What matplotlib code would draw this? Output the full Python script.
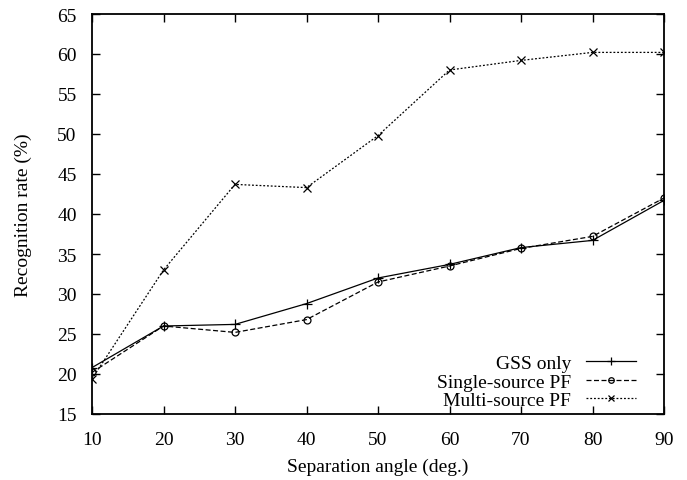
import matplotlib
matplotlib.use('Agg')
import matplotlib.pyplot as plt

plt.rcParams['font.family'] = ['Liberation Serif', 'DejaVu Serif']
plt.rcParams['font.size'] = 14

angles = [10, 20, 30, 40, 50, 60, 70, 80, 90]
gss_only = [20.8, 26.0, 26.2, 28.8, 32.0, 33.7, 35.8, 36.7, 41.7]
single_pf = [20.2, 26.0, 25.2, 26.8, 31.5, 33.5, 35.7, 37.2, 42.0]
multi_pf = [19.4, 33.0, 43.7, 43.3, 49.8, 58.0, 59.2, 60.2, 60.2]

fig = plt.figure(figsize=(6.87, 4.81), dpi=100)
ax = fig.add_axes([92/687, 66/481, (664-92)/687, (415-15)/481])

ax.plot(angles, gss_only, color='black', lw=0.9, marker='+', ms=7, mew=0.9, label='GSS only')
ax.plot(angles, single_pf, color='black', lw=0.9, ls=(0, (4, 2)), marker='o', ms=5,
        mfc='none', mew=0.9, label='Single-source PF')
ax.plot(angles, multi_pf, color='black', lw=0.9, ls=(0, (1.5, 1.5)), marker='x', ms=6,
        mew=0.9, label='Multi-source PF')

ax.set_xlim(10, 90)
ax.set_ylim(15, 65)
ax.set_xticks(range(10, 91, 10))
ax.set_yticks(range(15, 66, 5))
ax.tick_params(direction='in', top=True, right=True, length=6, width=1)
ax.tick_params(axis='x', pad=12)
ax.tick_params(axis='y', pad=11)
for s in ax.spines.values():
    s.set_linewidth(1.3)

ax.set_xlabel('Separation angle (deg.)', labelpad=7)
ax.set_ylabel('Recognition rate (%)', labelpad=18)

leg = ax.legend(loc='lower right', frameon=False, markerfirst=False, handlelength=2.6,
                numpoints=1, markerscale=0.8, borderaxespad=0.0, borderpad=0.25,
                labelspacing=0.05, handletextpad=0.75, bbox_to_anchor=(0.96, 0.0))
for t in leg.get_texts():
    t.set_ha('right')

fig.savefig('out.png', dpi=100)
